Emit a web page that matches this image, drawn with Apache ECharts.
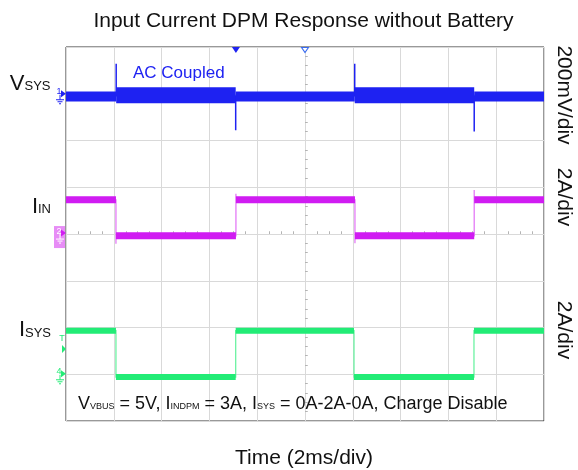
<!DOCTYPE html>
<html>
<head>
<meta charset="utf-8">
<script src="https://cdn.jsdelivr.net/npm/echarts@6/dist/echarts.min.js"></script>
<style>
html, body { margin: 0; background: #fff; }
#chart { width: 578px; height: 470px; }
</style>
</head>
<body>
<div id="chart"></div>
<script>
// scope screen: 10 x 8 divisions, time in ms (2 ms/div), trigger at centre
var timeRange = [-10, 10];
var divRange = [-4, 4];

// VSYS (AC coupled, 200mV/div) - levels in divisions
var vsysEdges = [-10, -7.9, -2.9, 2.08, 7.08, 10];
var vsysLevels = [2.94, 2.97, 2.94, 2.97, 2.94];
var vsysRipple = [false, true, false, true, false];
var vsysSpikeTimes = [-7.9, -2.9, 2.08, 7.08];
var vsysSpikeBase = [2.94, 2.97, 2.94, 2.97];
var vsysSpikeTips = [3.64, 2.22, 3.64, 2.19];

// IIN (2A/div)
var iinEdges = [-10, -7.91, -2.89, 2.09, 7.08, 10];
var iinLevels = [0.73, -0.04, 0.73, -0.04, 0.73];
var iinEdgeTips = [-0.21, 0.86, -0.2, 0.94];

// ISYS (2A/div)
var isysEdges = [-10, -7.91, -2.9, 2.05, 7.07, 10];
var isysLevels = [-2.07, -3.06, -2.07, -3.06, -2.07];

// channel ground markers, trigger
var channelNums = ['1', '2', '4'];
var groundLevels = [3.0, 0.02, -2.99];
var triggerTime = -2.89;
var triggerLevel = -2.46;

var blue = '#1e22f2';
var magenta = '#d01cf2';
var green = '#22ec76';
var fontFamily = 'Liberation Sans, Arial, sans-serif';

var measureCtx = document.createElement('canvas').getContext('2d');
function textWidth(str, size) {
    measureCtx.font = size + 'px ' + fontFamily;
    return measureCtx.measureText(str).width;
}

// text pieces sharing one baseline (for subscripts)
function textLine(parts, x, baseline, anchor, color) {
    var total = 0;
    parts.forEach(function (p) { total += textWidth(p[0], p[1]); });
    var cx = anchor === 'right' ? x - total : anchor === 'center' ? x - total / 2 : x;
    var els = [];
    parts.forEach(function (p) {
        els.push({
            type: 'text', x: cx, y: baseline - 0.31 * p[1], silent: true,
            style: { text: p[0], fontSize: p[1], fontFamily: fontFamily, fill: color, align: 'left', verticalAlign: 'middle' }
        });
        cx += textWidth(p[0], p[1]);
    });
    return els;
}

function stepPath(edges, levels, tips) {
    var pts = [[edges[0], levels[0]]];
    for (var i = 1; i < levels.length; i++) {
        pts.push([edges[i], levels[i - 1]]);
        if (tips) pts.push([edges[i], tips[i - 1]]);
        pts.push([edges[i], levels[i]]);
    }
    pts.push([edges[edges.length - 1], levels[levels.length - 1]]);
    return pts;
}

function bandPath(edges, levels, keep) {
    var pts = [];
    levels.forEach(function (v, i) {
        if (keep && !keep[i]) return;
        pts.push([edges[i], v], [edges[i + 1], v], [edges[i + 1], '-']);
    });
    return pts;
}

function spikePath(times, base, tips) {
    var pts = [];
    times.forEach(function (t, i) {
        pts.push([t, base[i]], [t, tips[i]], [t, '-']);
    });
    return pts;
}

function lineSeries(name, data, color, width, extra) {
    var s = {
        name: name, type: 'line', data: data, showSymbol: false, symbol: 'none',
        connectNulls: false, animation: false, silent: true,
        lineStyle: { color: color, width: width, cap: 'butt', join: 'miter' },
        itemStyle: { color: color }
    };
    return Object.assign(s, extra || {});
}

function makeAxis(range, interval, minorSplit, inside, grid) {
    return {
        type: 'value', min: range[0], max: range[1], interval: interval,
        axisLabel: { show: false },
        axisLine: { show: false, onZero: true, onZeroAxisIndex: inside ? 0 : 1 },
        axisTick: { show: false, inside: inside },
        minorTick: { show: true, splitNumber: minorSplit, length: 2.5, lineStyle: { color: '#b4b4b4', width: 1 } },
        splitLine: { show: grid, lineStyle: { color: '#d9d9d9', width: 1 } },
        minorSplitLine: { show: false }
    };
}

var chart = echarts.init(document.getElementById('chart'));

var option = {
    backgroundColor: '#fff',
    animation: false,
    grid: {
        left: 66, top: 47, width: 478, height: 374,
        show: true, borderColor: '#333', borderWidth: 1, backgroundColor: '#fff'
    },
    xAxis: [makeAxis(timeRange, 2, 4, true, true), makeAxis(timeRange, 2, 4, false, false)],
    yAxis: [makeAxis(divRange, 1, 5, true, true), makeAxis(divRange, 1, 5, false, false)],
    series: [
        lineSeries('IIN edges', stepPath(iinEdges, iinLevels, iinEdgeTips), '#e47af6', 1.3),
        lineSeries('ISYS edges', stepPath(isysEdges, isysLevels), '#6cf2a2', 1.3),
        lineSeries('VSYS spikes', spikePath(vsysSpikeTimes, vsysSpikeBase, vsysSpikeTips), blue, 1.5, {
            markPoint: {
                silent: true, animation: false, label: { show: false },
                data: [
                    { coord: [triggerTime, divRange[1]], symbol: 'triangle', symbolRotate: 180, symbolSize: [8, 6], symbolOffset: [0, 3], itemStyle: { color: blue } },
                    { coord: [0, divRange[1]], symbol: 'triangle', symbolRotate: 180, symbolSize: [7, 5], symbolOffset: [0, 3], itemStyle: { color: '#fff', borderColor: '#3a6cf0', borderWidth: 1 } }
                ]
            }
        }),
        lineSeries('VSYS ripple', bandPath(vsysEdges, vsysLevels, vsysRipple), blue, 16),
        lineSeries('VSYS', bandPath(vsysEdges, vsysLevels, vsysRipple.map(function (r) { return !r; })), blue, 10),
        lineSeries('IIN', bandPath(iinEdges, iinLevels), magenta, 7),
        lineSeries('ISYS', bandPath(isysEdges, isysLevels), green, 6)
    ]
};
chart.setOption(option);

// texts
var black = '#111';
var g = [];
g = g.concat(textLine([['Input Current DPM Response without Battery', 21]], 303.5, 27.7, 'center', black));
g = g.concat(textLine([['Time (2ms/div)', 21]], 304, 465, 'center', black));
g = g.concat(textLine([['V', 22], ['SYS', 13]], 50.5, 90.5, 'right', black));
g = g.concat(textLine([['I', 22], ['IN', 13]], 51, 213.5, 'right', black));
g = g.concat(textLine([['I', 22], ['SYS', 13]], 51, 337, 'right', black));
g = g.concat(textLine([['AC Coupled', 17]], 133, 79, 'left', blue));
g = g.concat(textLine([['V', 18], ['VBUS', 9], [' = 5V, I', 18], ['INDPM', 9], [' = 3A, I', 18], ['SYS', 9],
    [' = 0A-2A-0A, Charge Disable', 18]], 78, 409.3, 'left', black));
[['200mV/div', 95], ['2A/div', 197], ['2A/div', 330]].forEach(function (r) {
    g.push({
        type: 'text', x: 564, y: r[1], rotation: -Math.PI / 2, silent: true,
        style: { text: r[0], fontSize: 21, fontFamily: fontFamily, fill: black, align: 'center', verticalAlign: 'middle' }
    });
});

// channel ground markers on the left edge
var chColors = [blue, magenta, green];
groundLevels.forEach(function (lv, i) {
    var p = chart.convertToPixel({ gridIndex: 0 }, [timeRange[0], lv]);
    var x0 = p[0], y = p[1];
    var c = chColors[i];
    var fg = c;
    if (i === 1) {
        g.push({ type: 'rect', shape: { x: x0 - 12, y: y - 7, width: 11, height: 22 }, style: { fill: '#e78cf6' }, silent: true });
        fg = '#fff';
    }
    g.push({ type: 'polygon', shape: { points: [[x0 - 5, y - 3.5], [x0, y], [x0 - 5, y + 3.5]] }, style: { fill: c }, silent: true });
    g.push({ type: 'text', x: x0 - 7, y: y - 2, silent: true,
        style: { text: channelNums[i], fontSize: 9, fontFamily: fontFamily, fill: fg, align: 'center', verticalAlign: 'middle' } });
    var gx = x0 - 6;
    g.push({ type: 'polyline', shape: { points: [[gx, y + 1], [gx, y + 6]] }, style: { stroke: fg, lineWidth: 1 }, silent: true });
    [[4, 6], [2.5, 8], [1, 10]].forEach(function (w) {
        g.push({ type: 'polyline', shape: { points: [[gx - w[0], y + w[1]], [gx + w[0], y + w[1]]] }, style: { stroke: fg, lineWidth: 1 }, silent: true });
    });
});
var tp = chart.convertToPixel({ gridIndex: 0 }, [timeRange[0], triggerLevel]);
g.push({ type: 'polygon', shape: { points: [[tp[0] - 4, tp[1] - 4], [tp[0], tp[1]], [tp[0] - 4, tp[1] + 4]] }, style: { fill: green }, silent: true });
g.push({ type: 'text', x: tp[0] - 4, y: tp[1] - 10, silent: true,
    style: { text: 'T', fontSize: 9, fontFamily: fontFamily, fill: green, align: 'center', verticalAlign: 'middle' } });

chart.setOption({ graphic: { elements: g } });
</script>
</body>
</html>
